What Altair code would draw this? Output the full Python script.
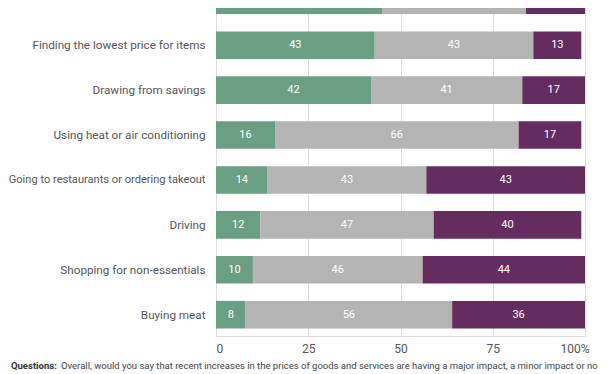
import altair as alt
import pandas as pd

items = [
    "Delaying big purchases",
    "Finding the lowest price for items",
    "Drawing from savings",
    "Using heat or air conditioning",
    "Going to restaurants or ordering takeout",
    "Driving",
    "Shopping for non-essentials",
    "Buying meat",
]
major = [45, 43, 42, 16, 14, 12, 10, 8]
minor = [39, 43, 41, 66, 43, 47, 46, 56]
no_impact = [17, 13, 17, 17, 43, 40, 44, 36]

groups = ["Major impact", "Minor impact", "No impact"]
colors = ["#6a9f84", "#b4b4b4", "#652d5f"]

caption_bold = "Questions:"
caption_text = ("Overall, would you say that recent increases in the prices of goods and services "
                "are having a major impact, a minor impact or no")

rows = []
for i, it in enumerate(items):
    for g, (grp, vals) in enumerate(zip(groups, [major, minor, no_impact])):
        rows.append({"item": it, "group": grp, "order": g, "value": vals[i]})
df = pd.DataFrame(rows)

FONT = "Roboto"

base = alt.Chart(df).transform_stack(
    stack="value", groupby=["item"], as_=["start", "end"], sort=[alt.SortField("order")]
).transform_calculate(
    mid="(datum.start + min(datum.end, 100)) / 2"
)

longest = max(items, key=len)

y_enc = alt.Y(
    "item:N", sort=items, title=None,
    scale=alt.Scale(paddingInner=0.385, paddingOuter=0.167, round=False),
    axis=alt.Axis(labelFont=FONT,
                  labelFontSize={"condition": {"test": f"datum.value == '{longest}'", "value": 11.1},
                                 "value": 11.7},
                  labelColor="#555555",
                  labelPadding=11, ticks=False, domain=False, labelLimit=300),
)

bars = base.mark_bar(clip=True).encode(
    x=alt.X("start:Q", title=None,
            scale=alt.Scale(domain=[0, 100], clamp=True, nice=False),
            axis=alt.Axis(values=[0, 25, 50, 75, 100], ticks=False, domain=False,
                          gridColor="#dddddd", labelFont=FONT, labelFontSize=12,
                          labelColor="#555555", labelPadding=7,
                          labelExpr="datum.value == 100 ? '100%' : datum.label",
                          labelOffset={"condition": {"test": "datum.value == 100", "value": 4}, "value": 0})),
    x2="end:Q",
    y=y_enc,
    color=alt.Color("group:N", scale=alt.Scale(domain=groups, range=colors), legend=None),
)

labels = base.mark_text(font=FONT, fontSize=11, color="white").encode(
    x="mid:Q",
    y=alt.Y("item:N", sort=items),
    text="value:Q",
)

cap_df = pd.DataFrame({"a": [caption_bold], "b": [caption_text]})
cap1 = alt.Chart(cap_df).mark_text(font=FONT, fontSize=9.5, fontWeight="bold", color="#333333",
                                   align="left", baseline="alphabetic").encode(
    x=alt.value(-205), y=alt.value(390), text="a:N")
cap2 = alt.Chart(cap_df).mark_text(font=FONT, fontSize=9.5, color="#444444",
                                   align="left", baseline="alphabetic").encode(
    x=alt.value(-155), y=alt.value(390), text="b:N")

chart = alt.layer(bars, labels, cap1, cap2).properties(
    width=369, height=357,
    autosize=alt.AutoSizeParams(type="none"),
    padding={"left": 208, "top": -29, "right": 19, "bottom": 38},
).configure_view(stroke=None).configure(background="white")

chart.save("out.html", embed_options={"renderer": "svg", "actions": False})
